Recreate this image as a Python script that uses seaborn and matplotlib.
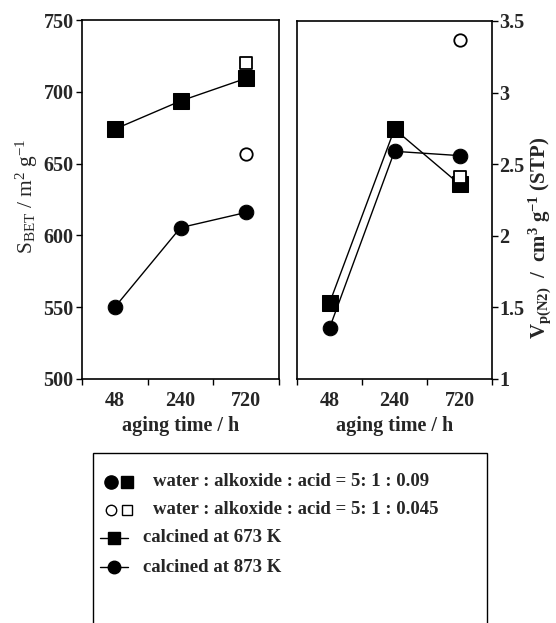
import matplotlib
matplotlib.use("Agg")
import matplotlib.pyplot as plt
import seaborn as sns
import pandas as pd
import numpy as np
from matplotlib.lines import Line2D
from matplotlib.patches import Rectangle

# ---- data ----
aging = ["48", "240", "720"]
sbet_673 = [674, 693.6, 709.4]
sbet_873 = [550, 605.4, 616]
sbet_673_low = [719.8]   # 0.045 acid, 720 h
sbet_873_low = [657]
vp_673 = [1.53, 2.745, 2.36]
vp_873 = [1.355, 2.59, 2.56]
vp_673_low = [2.41]
vp_873_low = [3.37]
low_aging = ["720"]

sns.set_theme(style="white")
plt.rcParams['font.family'] = ['Liberation Serif', 'DejaVu Serif']
plt.rcParams['mathtext.fontset'] = 'custom'
plt.rcParams['mathtext.rm'] = 'Liberation Serif'
plt.rcParams['mathtext.bf'] = 'Liberation Serif:bold'
plt.rcParams['mathtext.it'] = 'Liberation Serif:italic'

W, H = 556, 623
fig = plt.figure(figsize=(W / 100, H / 100), dpi=100)

def fx(px):
    return px / W

def fy(py):
    return 1 - py / H

axL = fig.add_axes([fx(82), fy(379), fx(279) - fx(82), fy(20) - fy(379)])
axR = fig.add_axes([fx(297), fy(379), fx(492) - fx(297), fy(21) - fy(379)])

pos = {a: i for i, a in enumerate(aging)}

def df_of(vals, cats):
    return pd.DataFrame({"x": [pos[c] for c in cats], "y": vals})

def draw(ax, s673, s873, s673l, s873l):
    sns.lineplot(data=df_of(s673, aging), x="x", y="y", ax=ax, color="black",
                 lw=1.0, marker="s", markersize=11.5, markeredgecolor="black",
                 markerfacecolor="black", zorder=3)
    sns.lineplot(data=df_of(s873, aging), x="x", y="y", ax=ax, color="black",
                 lw=1.0, marker="o", markersize=10.5, markeredgecolor="black",
                 markerfacecolor="black", zorder=3)
    sns.scatterplot(data=df_of(s673l, low_aging), x="x", y="y", ax=ax, marker="s",
                    s=85, facecolor="white", edgecolor="black", linewidth=1.3, zorder=4)
    sns.scatterplot(data=df_of(s873l, low_aging), x="x", y="y", ax=ax, marker="o",
                    s=80, facecolor="white", edgecolor="black", linewidth=1.3, zorder=4)

draw(axL, sbet_673, sbet_873, sbet_673_low, sbet_873_low)
draw(axR, vp_673, vp_873, vp_673_low, vp_873_low)

tickfont = dict(fontsize=14.5, fontweight="bold")
for ax in (axL, axR):
    ax.set_xlim(-0.5, 2.5)
    ax.set_xticks(range(len(aging)))
    ax.set_xticklabels(aging, **tickfont)
    ax.set_xticks([-0.5, 0.5, 1.5, 2.5], minor=True)
    ax.tick_params(axis="x", which="major", length=0, pad=9)
    ax.tick_params(axis="x", which="minor", length=4, width=1.0, direction="out",
                   bottom=True, color="black")
    ax.tick_params(axis="y", length=4, width=1.0, direction="out", color="black")
    for sp in ax.spines.values():
        sp.set_color("black")
        sp.set_linewidth(1.2)
    ax.set_xlabel("aging time / h", fontsize=14.5, fontweight="bold", labelpad=3)
    ax.grid(False)

axL.set_ylim(500, 750)
axL.set_yticks([500, 550, 600, 650, 700, 750])
axL.set_yticklabels(["500", "550", "600", "650", "700", "750"], **tickfont)
axL.tick_params(axis="y", left=True, right=False, pad=2)
axL.set_ylabel(r"$\mathrm{S_{BET}\ /\ m^2\ g^{-1}}$", fontsize=15.5)
axL.yaxis.set_label_coords(-0.215, 0.51)

axR.set_ylim(1, 3.5)
axR.set_yticks([1, 1.5, 2, 2.5, 3, 3.5])
axR.set_yticklabels(["1", "1.5", "2", "2.5", "3", "3.5"], **tickfont)
axR.yaxis.tick_right()
axR.yaxis.set_label_position("right")
axR.tick_params(axis="y", left=False, right=True, pad=1)
axR.set_ylabel(r"$\mathbf{V_{p(N2)}\ \ /\ \ cm^3\ g^{-1}\ (STP)}$", fontsize=15,
               rotation=90, va="center")
axR.yaxis.set_label_coords(1.25, 0.395)

# ---- legend box (manual) ----
rect = Rectangle((fx(93), fy(640)), fx(487) - fx(93), fy(453) - fy(640),
                 transform=fig.transFigure, fill=False, edgecolor="black",
                 linewidth=1.0, clip_on=False)
fig.add_artist(rect)

def mk(xpx, ypx, marker, filled, ms):
    fig.add_artist(Line2D([fx(xpx)], [fy(ypx)], transform=fig.transFigure,
                          marker=marker, markersize=ms, linestyle="none",
                          markerfacecolor="black" if filled else "white",
                          markeredgecolor="black", markeredgewidth=1.0))

leg_font = dict(fontsize=13.5, fontweight="bold", va="center", ha="left")
mk(111, 482, "o", True, 9.5)
mk(127, 482, "s", True, 8.5)
fig.text(fx(153), fy(482), "water : alkoxide : acid = 5: 1 : 0.09", **leg_font)
mk(111, 510, "o", False, 7.5)
mk(127, 510, "s", False, 7.5)
fig.text(fx(153), fy(510), "water : alkoxide : acid = 5: 1 : 0.045", **leg_font)

for ypx, m, ms, label in [(538, "s", 9, "calcined at 673 K"),
                          (567, "o", 9, "calcined at 873 K")]:
    fig.add_artist(Line2D([fx(100), fx(128)], [fy(ypx), fy(ypx)],
                          transform=fig.transFigure, color="black", lw=1.0))
    mk(114, ypx, m, True, ms)
    fig.text(fx(143), fy(ypx), label, **leg_font)

fig.savefig("out.png", dpi=100)
